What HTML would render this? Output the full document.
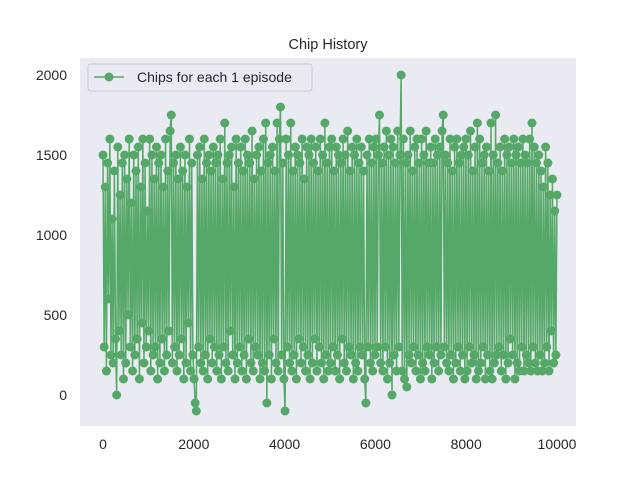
<!DOCTYPE html>
<html><head><meta charset="utf-8"><style>
body{margin:0;background:#fff;}
svg text{font-family:"Liberation Sans",sans-serif;fill:#262626;}
</style></head><body>
<svg id="chart" width="640" height="480">
<rect x="0" y="0" width="640" height="480" fill="#fff"/>
<rect x="80" y="58" width="496" height="368" fill="#eaeaf2"/>
<text x="328" y="49" text-anchor="middle" font-size="14.5">Chip History</text>
<g id="ticks"></g>
<g id="series"></g>
<g>
<rect x="88" y="64" width="224" height="27" rx="3" fill="#eaeaf2" stroke="#cccccc" stroke-width="1"/>
<line x1="94" y1="77" x2="124" y2="77" stroke="#55a868" stroke-width="1.5"/>
<circle cx="109" cy="77" r="4.5" fill="#55a868"/>
<text x="137" y="82" font-size="14">Chips for each 1 episode</text>
</g>
</svg>
<script>
const xTicks=[0,2000,4000,6000,8000,10000];
const yTicks=[0,500,1000,1500,2000];
const episodeMax=10000;
const chips=[1500,300,1300,150,1450,600,1600,250,1100,200,
1400,350,0,1550,400,1250,250,1450,100,1500,
200,1350,500,1600,300,1200,150,1500,250,1400,
350,1550,100,1300,450,1600,200,1450,300,1150,
400,1600,150,1500,250,1350,300,1550,100,1450,
200,1500,350,1300,150,1600,250,1400,400,1650,
1750,200,1450,300,1500,150,1350,250,1550,350,
1400,100,1500,200,1300,450,1600,150,1450,250,
100,-50,-100,1500,300,1550,200,1350,150,1600,
250,1450,100,1500,350,1400,200,1550,300,1450,
150,1500,250,1600,100,1350,300,1700,200,1450,
150,1500,400,1550,250,1300,100,1600,200,1450,
300,1550,150,1400,250,1600,100,1500,350,1450,
200,1650,150,1350,300,1500,250,1550,100,1400,
200,1600,150,1700,-50,1450,250,1500,100,1550,
350,1400,200,1700,150,1600,1800,250,1450,100,
-100,1600,300,1500,200,1700,150,1400,250,1550,
100,1500,350,1450,200,1600,300,1350,150,1550,
250,1500,100,1600,200,1450,350,1550,150,1400,
300,1600,200,1500,100,1700,250,1450,150,1550,
200,1600,300,1400,150,1550,250,1500,100,1450,
350,1600,200,1500,150,1650,300,1400,250,1550,
100,1500,200,1600,150,1450,300,1550,250,1400,
100,-50,1500,300,1600,200,1450,150,1550,250,
1600,300,1500,1750,200,1450,150,1550,300,1650,
100,1500,200,1600,0,1550,250,1450,150,1650,
300,1500,2000,150,1600,100,1450,50,1500,250,
1650,200,1400,300,1550,150,1600,250,1450,100,
1600,200,1500,150,1650,300,1450,250,1550,100,
1450,200,1600,300,1500,150,1550,250,1650,1750,
300,1500,200,1450,150,1600,250,1400,100,1550,
200,1600,300,1450,150,1500,250,1550,100,1600,
150,1500,300,1650,200,1400,250,1550,100,1700,
150,1600,200,1450,300,1500,100,1550,250,1400,
150,1700,100,1500,200,1750,250,1450,300,1550,
150,1400,250,1600,100,1500,200,1550,350,1450,
250,1600,100,1500,200,1550,150,1450,300,1600,
150,1500,250,1450,200,1600,150,1700,300,1550,
200,1450,150,1500,250,1400,150,1300,200,1550,
300,1450,150,1250,400,1350,200,1150,250,1250];
const NS="http://www.w3.org/2000/svg";
function xS(v){return 103+(v/10000)*454;}
function yS(v){return 395-(v/2000)*320;}
const ticks=document.getElementById('ticks');
xTicks.forEach(t=>{const e=document.createElementNS(NS,'text');
e.setAttribute('x',xS(t));e.setAttribute('y',449);e.setAttribute('text-anchor','middle');e.setAttribute('font-size','14');


e.textContent=t;ticks.appendChild(e);});
yTicks.forEach(t=>{const e=document.createElementNS(NS,'text');
e.setAttribute('x',67);e.setAttribute('y',yS(t)+5);e.setAttribute('text-anchor','end');e.setAttribute('font-size','14');


e.textContent=t;ticks.appendChild(e);});
const g=document.getElementById('series');
const n=chips.length;
const pts=chips.map((v,i)=>[xS(i*episodeMax/(n-1)),yS(v)]);
const pl=document.createElementNS(NS,'polyline');
pl.setAttribute('points',pts.map(p=>p.join(',')).join(' '));
pl.setAttribute('fill','none');pl.setAttribute('stroke','#55a868');pl.setAttribute('stroke-width','1.5');


g.appendChild(pl);
pts.forEach(p=>{const c=document.createElementNS(NS,'circle');
c.setAttribute('cx',p[0]);c.setAttribute('cy',p[1]);c.setAttribute('r','4.5');c.setAttribute('fill','#55a868');


g.appendChild(c);});
</script>
</body></html>
